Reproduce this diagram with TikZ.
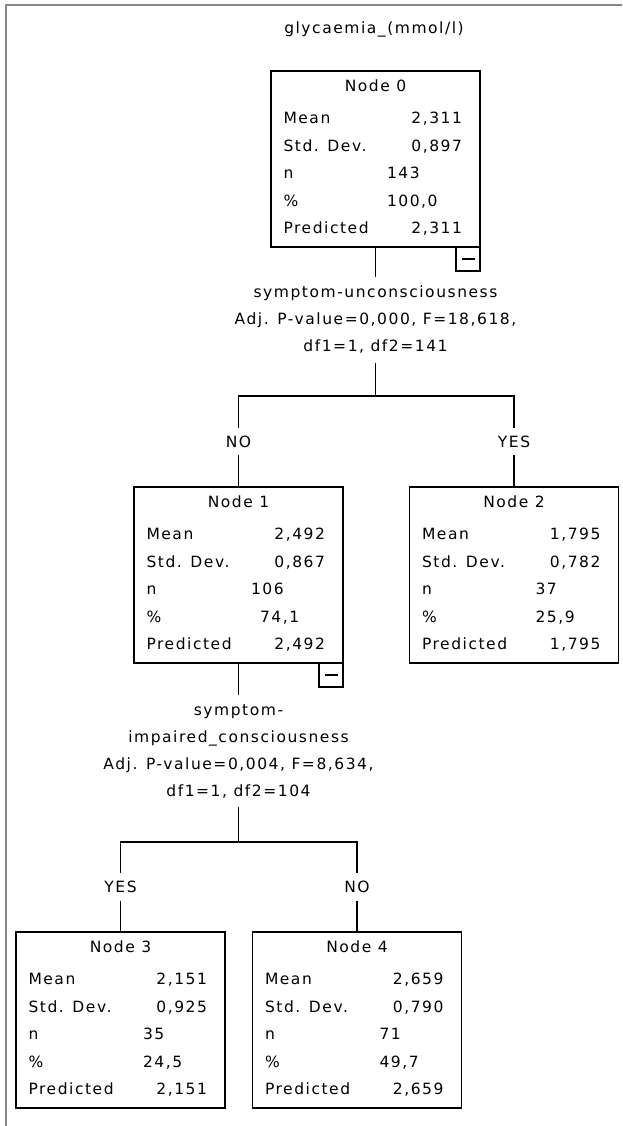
\documentclass[tikz,border=0pt]{standalone}
\usepackage{fontspec}
\newfontfamily\treefont[LetterSpace=10]{DejaVu Sans}
\usetikzlibrary{calc}
\def\statbox(#1)#2#3#4#5#6#7#8#9{%
	\node[treebox] (n#2) at (#1) {};
	\node[txt] (n#2t) at ($(n#2.north)+(0,14.5)$) {Node #2};
	\node[txt, anchor=west] (n#2a) at ($(n#2.north west)+(12.5,47)$) {Mean};
	\node[txt, anchor=east] (n#2av) at ($(n#2.north east)+(-18,47)$) {#3};
	\node[txt, anchor=west] (n#2b) at ($(n#2.north west)+(12.5,74.5)$) {Std. Dev.};
	\node[txt, anchor=east] (n#2bv) at ($(n#2.north east)+(-18,74.5)$) {#4};
	\node[txt, anchor=west] (n#2c) at ($(n#2.north west)+(12.5,102)$) {n};
	\node[txt, anchor=west] (n#2cv) at ($(n#2.north west)+(#8,102)$) {#5};
	\node[txt, anchor=west] (n#2d) at ($(n#2.north west)+(12.5,129.5)$) {\%};
	\node[txt, anchor=west] (n#2dv) at ($(n#2.north west)+(#9,129.5)$) {#6};
	\node[txt, anchor=west] (n#2e) at ($(n#2.north west)+(12.5,157)$) {Predicted};
	\node[txt, anchor=east] (n#2ev) at ($(n#2.north east)+(-18,157)$) {#7};
}

\begin{document}
\begin{tikzpicture}[x=1pt, y=-1pt,
		every node/.style={font=\treefont\fontsize{15.5pt}{27pt}\selectfont},
		txt/.style={inner sep=0, outer sep=0, text height=11.3pt, text depth=0pt},
		treebox/.style={draw, line width=1.5pt, minimum width=209pt, minimum height=176pt, inner sep=0, outer sep=0},
		foldbox/.style={draw, line width=1.5pt, minimum width=24pt, minimum height=24pt, inner sep=0, outer sep=0},
		split/.style={align=center, inner xsep=0, inner ysep=9pt, outer sep=0},
		branch/.style={inner xsep=0, inner ysep=8pt, outer sep=0, text height=11.3pt, text depth=0pt},
		link/.style={line width=1.3pt}]
		%%%%% START %%%%%
		
		\useasboundingbox (0,0) rectangle (622,1126);
		\draw[line width=2pt, color=black!47] (622,5.5) -- (6,5.5) -- (6,1126);
		
		\node[txt] (title) at (374,28) {glycaemia\_(mmol/l)};
		
		\statbox(375.5,159){0}{2,311}{0,897}{143}{100,0}{2,311}{116}{116}
		\statbox(238.5,575){1}{2,492}{0,867}{106}{74,1}{2,492}{117}{126}
		\statbox(514,575){2}{1,795}{0,782}{37}{25,9}{1,795}{126}{126}
		\statbox(120.5,1020){3}{2,151}{0,925}{35}{24,5}{2,151}{127}{127}
		\statbox(357,1020){4}{2,659}{0,790}{71}{49,7}{2,659}{127}{127}
		
		\node[foldbox, anchor=north east] (n0fold) at (n0.south east) {};
		\draw[line width=1.6pt] ($(n0fold.center)+(-6.5,0)$) -- ($(n0fold.center)+(6.5,0)$);
		\node[foldbox, anchor=north east] (n1fold) at (n1.south east) {};
		\draw[line width=1.6pt] ($(n1fold.center)+(-6.5,0)$) -- ($(n1fold.center)+(6.5,0)$);
		
		\node[split] (s0) at (375.5,320) {symptom-unconsciousness\\Adj. P-value=0,000, F=18,618,\\df1=1, df2=141};
		\coordinate (j0) at (375.5,396);
		\node[branch] (b1) at (238.5,441.5) {NO};
		\node[branch] (b2) at (514,441.5) {YES};
		
		\draw[link] (n0.south) -- (s0.north);
		\draw[link] (s0.south) -- (j0) -| (b1.north);
		\draw[link] (j0) -| (b2.north);
		\draw[link] (b1.south) -- (n1.north);
		\draw[link] (b2.south) -- (n2.north);
		
		\node[split] (s1) at (238.5,751) {symptom-\\impaired\_consciousness\\Adj. P-value=0,004, F=8,634,\\df1=1, df2=104};
		\coordinate (j1) at (238.5,842);
		\node[branch] (b3) at (120.5,887) {YES};
		\node[branch] (b4) at (357,887) {NO};
		
		\draw[link] (n1.south) -- (s1.north);
		\draw[link] (s1.south) -- (j1) -| (b3.north);
		\draw[link] (j1) -| (b4.north);
		\draw[link] (b3.south) -- (n3.north);
		\draw[link] (b4.south) -- (n4.north);
		
		%%%%% END %%%%%
\end{tikzpicture}
\end{document}
